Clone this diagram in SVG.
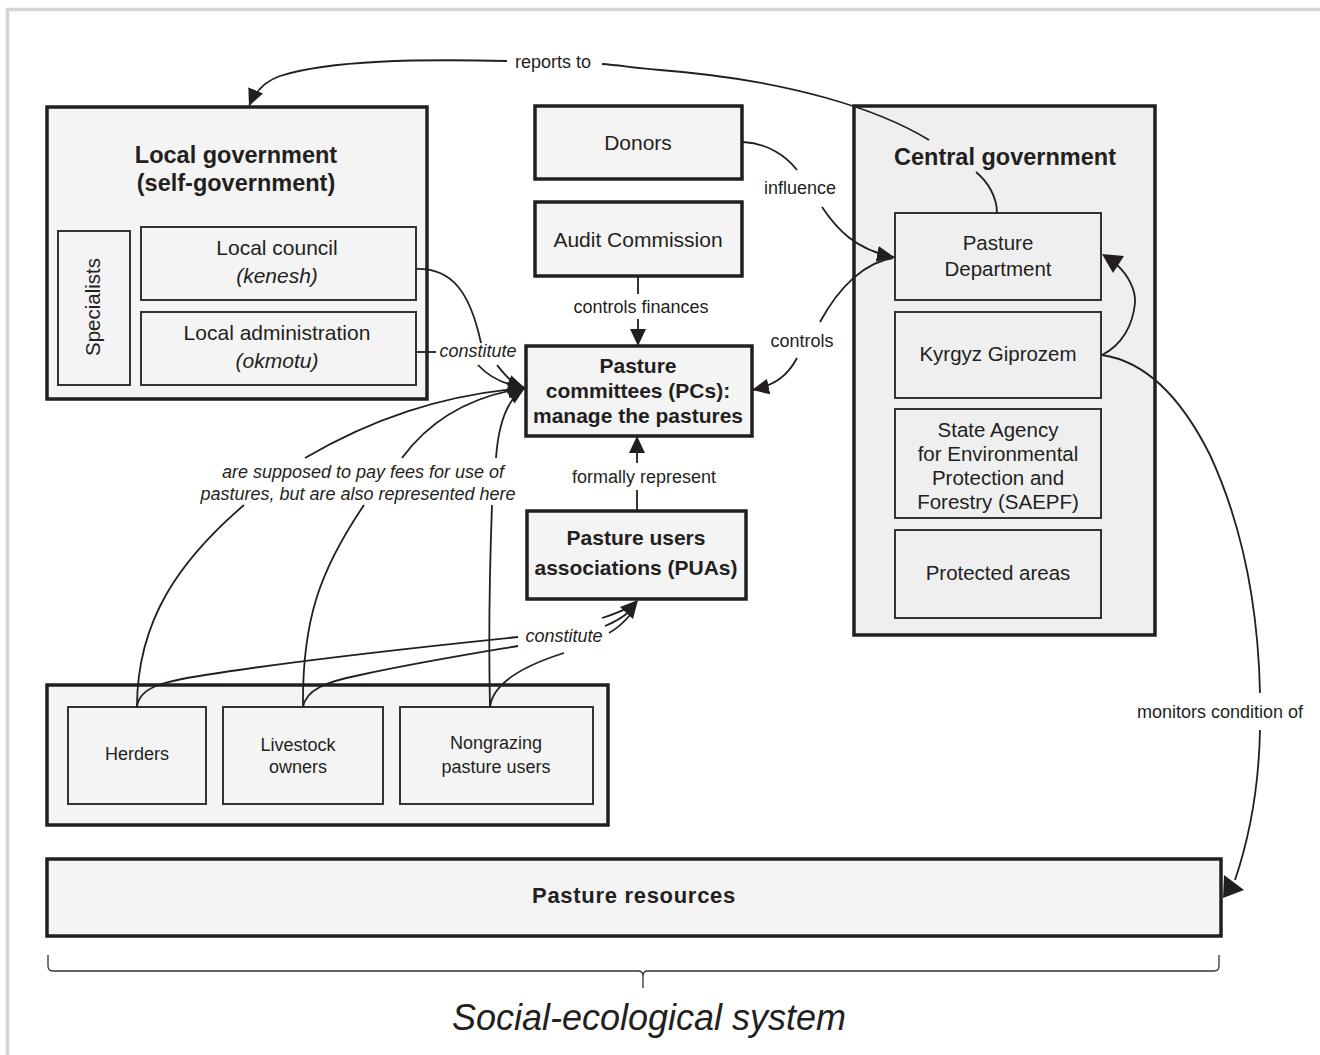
<svg xmlns="http://www.w3.org/2000/svg" width="1320" height="1055" viewBox="0 0 1320 1055">
<defs>
<style>
.t{font-family:"Liberation Sans",Arial,sans-serif;fill:#231f20;text-anchor:middle}
.n{font-size:20.5px}
.s{font-size:18px}
.b{font-weight:bold}
.i{font-style:italic}
.big{fill:#f4f4f4;stroke:#231f20;stroke-width:3.5}
.cg{fill:#efefef;stroke:#231f20;stroke-width:3.5}
.in{fill:#f4f4f4;stroke:#333;stroke-width:2}
.inc{fill:#efefef;stroke:#333;stroke-width:2}
.c{fill:none;stroke:#231f20;stroke-width:1.8}
.ah{fill:#231f20}
</style>
<marker id="arr" markerUnits="userSpaceOnUse" markerWidth="19" markerHeight="18" refX="17" refY="8" orient="auto">
<path d="M0,0 L17,8 L0,16 z" fill="#231f20"/>
</marker>
</defs>
<rect x="0" y="0" width="1320" height="1055" fill="#ffffff"/>
<rect x="7.5" y="9.5" width="1340" height="1070" fill="none" stroke="#d5d5d5" stroke-width="3.5"/>

<g id="local-government">
<rect class="big" x="47" y="107" width="380" height="292"/>
<text class="t b" style="font-size:23.5px" x="236" y="163">Local government</text>
<text class="t b" style="font-size:23.5px" x="236" y="191">(self-government)</text>
</g>
<g id="specialists">
<rect class="in" x="58" y="231" width="72" height="154"/>
<text class="t n" transform="translate(100,307) rotate(-90)">Specialists</text>
</g>
<g id="local-council">
<rect class="in" x="141" y="227" width="275" height="73"/>
<text class="t" style="font-size:21px" x="277" y="255">Local council</text>
<text class="t i" style="font-size:21px" x="277" y="283">(kenesh)</text>
</g>
<g id="local-administration">
<rect class="in" x="141" y="312" width="275" height="73"/>
<text class="t" style="font-size:21px" x="277" y="340">Local administration</text>
<text class="t i" style="font-size:21px" x="277" y="368">(okmotu)</text>
</g>

<g id="donors">
<rect class="big" x="535" y="106" width="207" height="73"/>
<text class="t" style="font-size:21px" x="638" y="150">Donors</text>
</g>
<g id="audit-commission">
<rect class="big" x="535" y="202" width="207" height="74"/>
<text class="t" style="font-size:21px" x="638" y="247">Audit Commission</text>
</g>
<g id="pasture-committees">
<rect class="big" x="526" y="346" width="226" height="90"/>
<text class="t b" style="font-size:21px" x="638" y="373">Pasture</text>
<text class="t b" style="font-size:21px" x="638" y="398">committees (PCs):</text>
<text class="t b" style="font-size:21px" x="638" y="423">manage the pastures</text>
</g>
<g id="pasture-users-associations">
<rect class="big" x="527" y="511" width="219" height="88"/>
<text class="t b" style="font-size:21px" x="636" y="545">Pasture users</text>
<text class="t b" style="font-size:21px" x="636" y="575">associations (PUAs)</text>
</g>

<g id="central-government">
<rect class="cg" x="854" y="106" width="301" height="529"/>
<text class="t b" style="font-size:23.5px" x="1005" y="165">Central government</text>
</g>
<g id="pasture-department">
<rect class="inc" x="895" y="213" width="206" height="87"/>
<text class="t n" x="998" y="250">Pasture</text>
<text class="t n" x="998" y="276">Department</text>
</g>
<g id="kyrgyz-giprozem">
<rect class="inc" x="895" y="312" width="206" height="86"/>
<text class="t n" x="998" y="361">Kyrgyz Giprozem</text>
</g>
<g id="saepf">
<rect class="inc" x="895" y="409" width="206" height="109"/>
<text class="t n" x="998" y="437">State Agency</text>
<text class="t n" x="998" y="461">for Environmental</text>
<text class="t n" x="998" y="485">Protection and</text>
<text class="t n" x="998" y="509">Forestry (SAEPF)</text>
</g>
<g id="protected-areas">
<rect class="inc" x="895" y="530" width="206" height="88"/>
<text class="t n" x="998" y="580">Protected areas</text>
</g>

<g id="users-group">
<rect class="big" x="47" y="685" width="561" height="140"/>
</g>
<g id="herders">
<rect class="in" x="68" y="707" width="138" height="97"/>
<text class="t s" x="137" y="760">Herders</text>
</g>
<g id="livestock-owners">
<rect class="in" x="223" y="707" width="160" height="97"/>
<text class="t s" x="298" y="751">Livestock</text>
<text class="t s" x="298" y="773">owners</text>
</g>
<g id="nongrazing-users">
<rect class="in" x="400" y="707" width="193" height="97"/>
<text class="t s" x="496" y="749">Nongrazing</text>
<text class="t s" x="496" y="773">pasture users</text>
</g>

<g id="pasture-resources">
<rect class="big" x="47" y="859" width="1174" height="77"/>
<text class="t b" style="font-size:22px;letter-spacing:0.7px" x="634" y="903">Pasture resources</text>
</g>

<g id="social-ecological-system">
<path d="M48,955 L48,966 Q48,971 53,971 L638,971 Q643,971 643,976 L643,988 M643,976 Q643,971 648,971 L1214,971 Q1219,971 1219,966 L1219,955" fill="none" stroke="#333" stroke-width="1.3"/>
<text class="t i" style="font-size:36px" x="649" y="1030">Social-ecological system</text>
</g>

<g id="connectors">
<!-- reports to -->
<path class="c" d="M997,213 C997,197 988,182 976,172 M929,140 C880,110 790,80 660,70 C635,68 618,65 602,64"/>
<path class="c" marker-end="url(#arr)" d="M507,61 C420,59 330,60 280,76 C265,81 255,92 249,106"/>
<text class="t s" x="553" y="68">reports to</text>
<!-- influence -->
<path class="c" d="M743,142 C768,143 787,157 797,170"/>
<path class="c" marker-end="url(#arr)" d="M822,207 C836,228 855,250 894,257"/>
<text class="t s" x="800" y="194">influence</text>
<!-- controls -->
<path class="c" d="M893,258 C866,262 840,285 820,322"/>
<path class="c" marker-end="url(#arr)" d="M797,358 C788,375 776,385 752,390"/>
<text class="t s" x="802" y="347">controls</text>
<!-- controls finances -->
<path class="c" d="M638,276 L638,294"/>
<path class="c" marker-end="url(#arr)" d="M638,319 L638,346"/>
<text class="t s" x="641" y="313">controls finances</text>
<!-- formally represent -->
<path class="c" d="M637,511 L637,490"/>
<path class="c" marker-end="url(#arr)" d="M637,463 L637,436"/>
<text class="t s" x="644" y="483">formally represent</text>
<!-- constitute (local) -->
<path class="c" d="M416,269 C452,268 470,292 481,343"/>
<path class="c" marker-end="url(#arr)" d="M497,365 C505,375 512,384 525,388"/>
<path class="c" d="M416,352 L436,352"/>
<path class="c" marker-end="url(#arr)" d="M478,365 C490,378 505,385 525,388"/>
<text class="t s i" x="478" y="357">constitute</text>
<!-- users to PCs -->
<path class="c" d="M137,707 C137,620 180,560 244,505"/>
<path class="c" marker-end="url(#arr)" d="M305,458 C370,420 440,395 525,388"/>
<path class="c" d="M303,707 C302,620 320,570 364,505"/>
<path class="c" marker-end="url(#arr)" d="M402,458 C430,420 470,396 525,388"/>
<path class="c" d="M490,707 C488,620 490,560 492,505"/>
<path class="c" marker-end="url(#arr)" d="M496,458 C498,430 505,400 525,388"/>
<text class="t s i" x="363" y="478">are supposed to pay fees for use of</text>
<text class="t s i" x="358" y="500">pastures, but are also represented here</text>
<!-- users constitute PUAs -->
<path class="c" d="M137,707 C139,688 160,682 205,675 C300,660 420,647 518,637"/>
<path class="c" d="M303,707 C306,690 325,682 360,675 C420,662 470,654 518,646"/>
<path class="c" d="M490,707 C492,690 510,670 564,653"/>
<path class="c" d="M602,618 C612,615 621,611 628,608 M605,626 C615,622 623,617 630,611 M609,633 C618,628 625,621 631,614"/>
<polygon class="ah" points="638,600 633,619 620,607"/>
<text class="t s i" x="564" y="642">constitute</text>
<!-- Giprozem to Pasture Department -->
<path class="c" d="M1102,355 C1122,345 1133,325 1135,303 C1136,290 1128,275 1117,265"/>
<polygon class="ah" points="1102,254 1124,256 1113,273"/>
<!-- monitors condition of -->
<path class="c" d="M1102,355 C1150,362 1185,405 1210,455 C1240,520 1258,600 1260,693 M1260,730 C1259,780 1252,830 1235,880"/>
<polygon class="ah" points="1224,875 1244,890 1223,898"/>
<text class="t s" x="1220" y="718">monitors condition of</text>
</g>
</svg>
